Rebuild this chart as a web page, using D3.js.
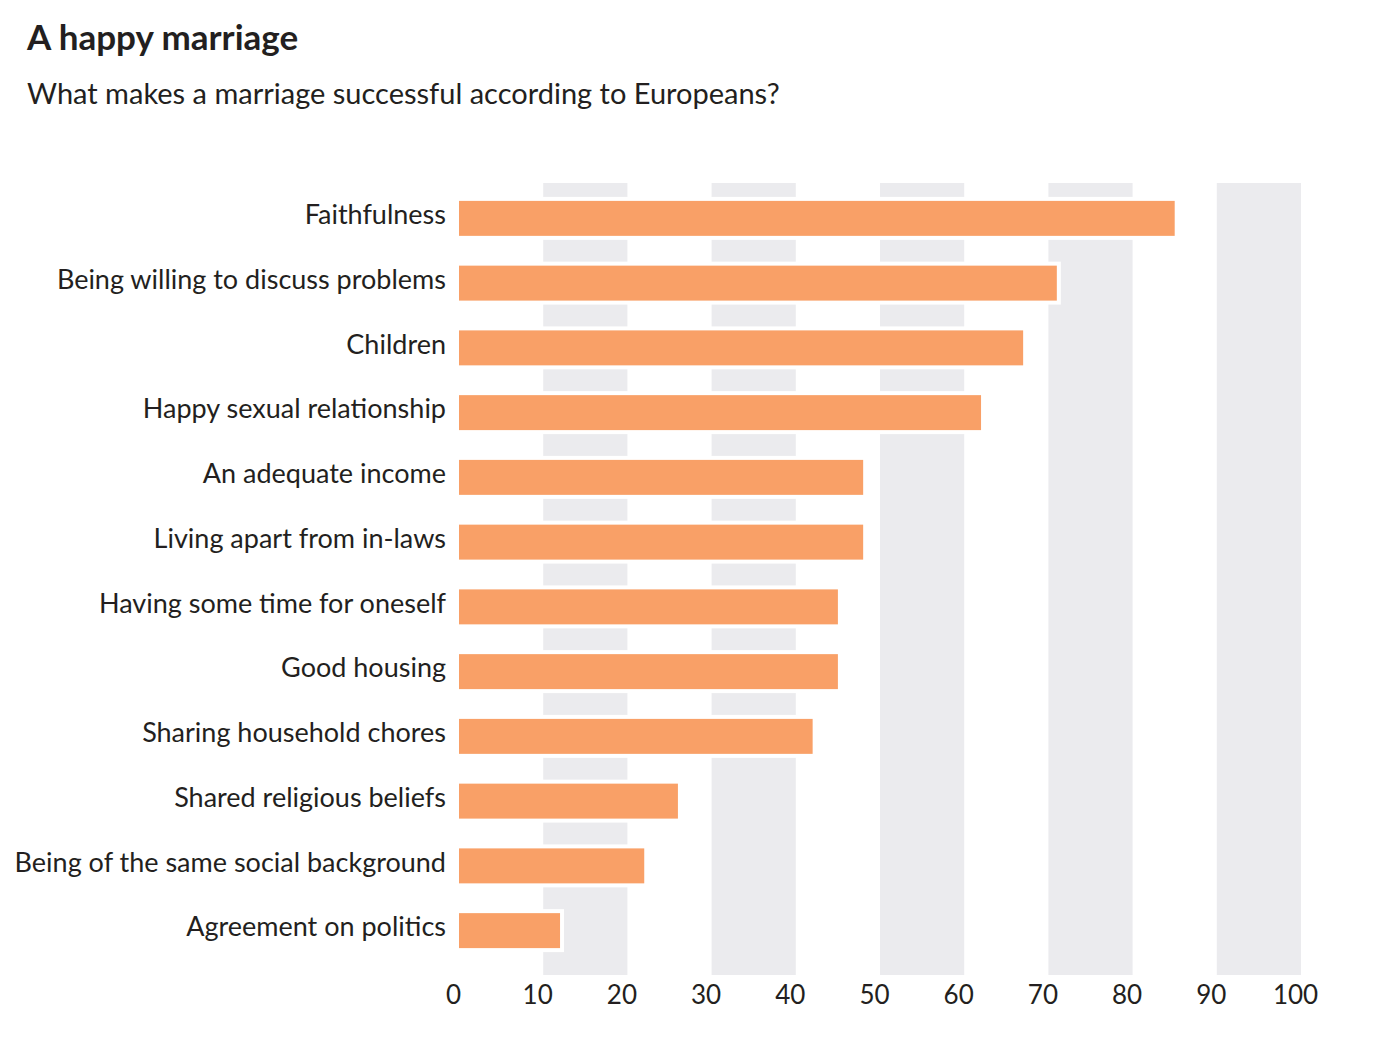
<!DOCTYPE html>
<html>
<head>
<meta charset="utf-8">
<script src="https://cdn.jsdelivr.net/npm/d3@7"></script>
<style>
  body { margin: 0; background: #fff; }
  text { font-family: Lato, "Open Sans", sans-serif; fill: #231f20; }
</style>
</head>
<body>
<svg id="chart" width="1390" height="1047"></svg>
<script>
// what makes a marriage successful, % of Europeans
const categories = [
  "Faithfulness",
  "Being willing to discuss problems",
  "Children",
  "Happy sexual relationship",
  "An adequate income",
  "Living apart from in-laws",
  "Having some time for oneself",
  "Good housing",
  "Sharing household chores",
  "Shared religious beliefs",
  "Being of the same social background",
  "Agreement on politics"
];
const values = [85, 71, 67, 62, 48, 48, 45, 45, 42, 26, 22, 12];
const tickValues = [0, 10, 20, 30, 40, 50, 60, 70, 80, 90, 100];
const bandStarts = [10, 30, 50, 70, 90];

const svg = d3.select("#chart");

svg.append("text")
    .attr("x", 27).attr("y", 50)
    .attr("font-size", 35).attr("font-weight", "bold")
    .text("A happy marriage");

svg.append("text")
    .attr("x", 27).attr("y", 104)
    .attr("font-size", 29)
    .text("What makes a marriage successful according to Europeans?");

const x = d3.scaleLinear()
    .domain([0, 100])
    .range([459, 1301]);

const y = d3.scaleBand()
    .domain(categories)
    .range([186, 963])
    .paddingInner(0.46)
    .paddingOuter(0.23);

// grey background bands
svg.append("g")
  .selectAll("rect")
  .data(bandStarts)
  .join("rect")
    .attr("x", d => x(d))
    .attr("y", 183)
    .attr("width", d => x(d + 10) - x(d))
    .attr("height", 792)
    .attr("fill", "#ebebee");

const bars = svg.append("g");

// white halo so the bands break around each bar
bars.selectAll("rect.halo")
  .data(values)
  .join("rect")
    .attr("class", "halo")
    .attr("x", x(0))
    .attr("y", (d, i) => y(categories[i]) - 4)
    .attr("width", d => x(d) - x(0) + 4)
    .attr("height", y.bandwidth() + 8)
    .attr("fill", "#fff");

bars.selectAll("rect.bar")
  .data(values)
  .join("rect")
    .attr("class", "bar")
    .attr("x", x(0))
    .attr("y", (d, i) => y(categories[i]))
    .attr("width", d => x(d) - x(0))
    .attr("height", y.bandwidth())
    .attr("fill", "#f9a067");

const yAxis = d3.axisLeft(y).tickSize(0).tickPadding(13);
svg.append("g")
    .attr("transform", `translate(${x(0)},-3)`)
    .call(yAxis)
    .call(g => g.select(".domain").remove())
    .call(g => g.selectAll("text")
        .attr("font-size", 27)
        .attr("fill", "#231f20")
        .style("font-family", "Lato, 'Open Sans', sans-serif"));

const xAxis = d3.axisBottom(x).tickValues(tickValues).tickSize(0).tickPadding(0);
svg.append("g")
    .attr("transform", "translate(-6,986)")
    .call(xAxis)
    .call(g => g.select(".domain").remove())
    .call(g => g.selectAll("text")
        .attr("font-size", 26)
        .attr("fill", "#231f20")
        .style("font-family", "Lato, 'Open Sans', sans-serif"));
</script>
</body>
</html>
